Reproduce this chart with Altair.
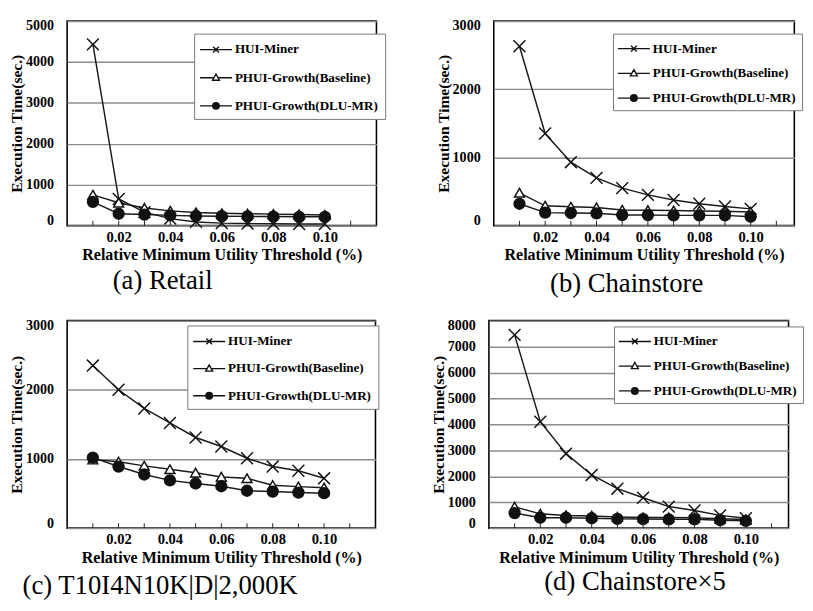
import altair as alt
import pandas as pd

FONT = "Liberation Serif"

x_vals = [0.01, 0.02, 0.03, 0.04, 0.05, 0.06, 0.07, 0.08, 0.09, 0.10]
series = ["HUI-Miner", "PHUI-Growth(Baseline)", "PHUI-Growth(DLU-MR)"]

# (a) Retail
a_hui = [4430, 650, 330, 170, 90, 60, 50, 45, 40, 40]
a_base = [750, 560, 430, 360, 320, 300, 290, 280, 270, 260]
a_dlu = [580, 290, 270, 250, 235, 230, 225, 220, 215, 215]
# (b) Chainstore
b_hui = [2630, 1350, 930, 700, 550, 450, 375, 320, 280, 245]
b_base = [480, 290, 275, 265, 230, 225, 220, 215, 210, 200]
b_dlu = [320, 190, 185, 180, 155, 155, 150, 150, 150, 130]
# (c) T10I4N10K|D|2,000K
c_hui = [2350, 2000, 1730, 1520, 1310, 1180, 1010, 890, 830, 720]
c_base = [990, 960, 900, 850, 800, 740, 720, 620, 600, 585]
c_dlu = [1020, 890, 775, 690, 645, 605, 540, 528, 514, 505]
# (d) Chainstore x5
d_hui = [7450, 4100, 2870, 2050, 1520, 1170, 830, 680, 490, 380]
d_base = [820, 550, 490, 470, 430, 410, 410, 400, 360, 330]
d_dlu = [580, 400, 400, 380, 356, 350, 340, 340, 307, 280]

tick_x = [0.01, 0.02, 0.03, 0.04, 0.05, 0.06, 0.07, 0.08, 0.09, 0.10, 0.11]
label_x = [0.02, 0.04, 0.06, 0.08, 0.10]

x_title = "Relative Minimum Utility Threshold (%)"
y_title = "Execution Time(sec.)"

marker_shapes = [
    "M-1,-1L1,1M-1,1L1,-1",
    "M0,-0.9L1,0.85L-1,0.85Z",
    "circle",
]
marker_fills = ["transparent", "white", "#111"]
marker_sizes = [150, 105, 125]

ring = lambda r: f"M{r},0A{r},{r},0,1,1,-{r},0A{r},{r},0,1,1,{r},0"
legend_shapes = [
    "M-1.94,0L1.94,0M-0.35,-0.35L0.35,0.35M-0.35,0.35L0.35,-0.35",
    "M-1.94,0L-0.25,0M0.25,0L1.94,0M0,-0.45L0.42,0.3L-0.42,0.3Z",
    "M-1.94,0L1.94,0" + ring(0.4) + ring(0.25) + ring(0.1),
]


def panel(hui, base, dlu, ymax, ystep, width, height, xmax, caption, cap_dx,
          leg_x, leg_y, leg_pad, leg_rowpad, cap_offset):
    df = pd.DataFrame({
        "x": x_vals * 3,
        "series": [series[0]] * 10 + [series[1]] * 10 + [series[2]] * 10,
        "y": hui + base + dlu,
    })
    y_ticks = [float(v) for v in range(0, ymax + 1, ystep)]
    xenc = alt.X(
        "x:Q",
        scale=alt.Scale(domain=[0, xmax], nice=False, zero=False),
        axis=alt.Axis(
            values=label_x, format=".2f", ticks=False, domain=False, grid=False,
            labelFont=FONT, labelFontSize=15, labelFontWeight="bold", labelColor="black",
            labelPadding=4, labelFlush=False, labelOverlap=False,
            title=x_title, titleFont=FONT, titleFontSize=16.5, titleFontWeight="bold",
            titleColor="black", titlePadding=3,
        ),
    )
    yenc = alt.Y(
        "y:Q",
        scale=alt.Scale(domain=[0, ymax], nice=False, zero=True),
        axis=alt.Axis(
            values=y_ticks, format="d", ticks=False, domain=False,
            grid=True, gridColor="#8c8c8c", gridWidth=1.5, labelOverlap=False,
            labelFont=FONT, labelFontSize=14.5, labelFontWeight="bold", labelColor="black",
            labelPadding=14, minExtent=40, maxExtent=40,
            labelFlush=True, labelFlushOffset=2,
            title=y_title, titleFont=FONT, titleFontSize=16, titleFontWeight="bold",
            titleColor="black", titlePadding=4,
        ),
    )
    bc = alt.Chart(df)
    lines = bc.mark_line(color="#1a1a1a", strokeWidth=1.5).encode(
        x=xenc, y=yenc, detail="series:N")
    layers = [lines]
    for s, shp, fl, sz in zip(series, marker_shapes, marker_fills, marker_sizes):
        layers.append(
            bc.transform_filter(alt.datum.series == s)
            .mark_point(shape=shp, filled=True, fill=fl, stroke="#111", strokeWidth=1.5,
                        size=sz, opacity=1)
            .encode(x=xenc, y=yenc)
        )
    ticks = alt.Chart(pd.DataFrame({"x": tick_x})).mark_rule(
        color="#222", strokeWidth=1).encode(
        x=xenc, y=alt.value(height), y2=alt.value(height - 5))
    layers.append(ticks)
    legend_layer = bc.transform_filter("false").mark_point(
        filled=False, opacity=1, color="#111", strokeWidth=1.4).encode(
        x=xenc, y=yenc,
        shape=alt.Shape(
            "series:N", scale=alt.Scale(domain=series, range=legend_shapes),
            legend=alt.Legend(
                orient="none", legendX=leg_x, legendY=leg_y, direction="vertical",
                title=None, labelFont=FONT, labelFontSize=13.5, labelFontWeight="bold",
                labelColor="black", labelLimit=0, symbolSize=289,
                labelExpr="datum.label + '\u2002'",
                symbolStrokeColor="#111", symbolStrokeWidth=1.4,
                symbolFillColor="transparent", symbolOpacity=1,
                padding=leg_pad, rowPadding=leg_rowpad, strokeColor="#777",
                fillColor="white", labelOffset=10, symbolOffset=6,
            ),
        ),
    )
    layers.append(legend_layer)
    return alt.layer(*layers).properties(
        width=width, height=height,
        title=alt.TitleParams(caption, orient="bottom", anchor="start", frame="group",
                              dx=cap_dx, offset=cap_offset, font=FONT, fontSize=27.5,
                              fontWeight="normal", color="black"),
    )


pa = panel(a_hui, a_base, a_dlu, 5000, 1000, 319, 211, 0.12, "(a) Retail", 47,
           131, 13, 7, 13, 5)
pb = panel(b_hui, b_base, b_dlu, 3000, 1000, 310, 211, 0.117, "(b) Chainstore", 58,
           123, 13, 6, 9.5, 8)
pc = panel(c_hui, c_base, c_dlu, 3000, 1000, 318, 214, 0.12, "(c) T10I4N10K|D|2,000K", -46,
           124, 5, 7, 12, 7)
pd_ = panel(d_hui, d_base, d_dlu, 8000, 1000, 309, 214, 0.1166, "(d) Chainstore×5", 57,
            129, 6, 6, 9.5, 3)

row1 = alt.hconcat(pa, pb, spacing=49).resolve_scale(shape="independent").resolve_legend(
    shape="independent")
row2 = alt.hconcat(pc, pd_, spacing=51).resolve_scale(shape="independent").resolve_legend(
    shape="independent")

chart = alt.vconcat(row1, row2, spacing=19).resolve_scale(
    shape="independent").resolve_legend(shape="independent").properties(
    padding=0).configure_view(stroke="black", strokeWidth=1.6)

chart.save("out.html", embed_options={"renderer": "svg", "actions": False})
